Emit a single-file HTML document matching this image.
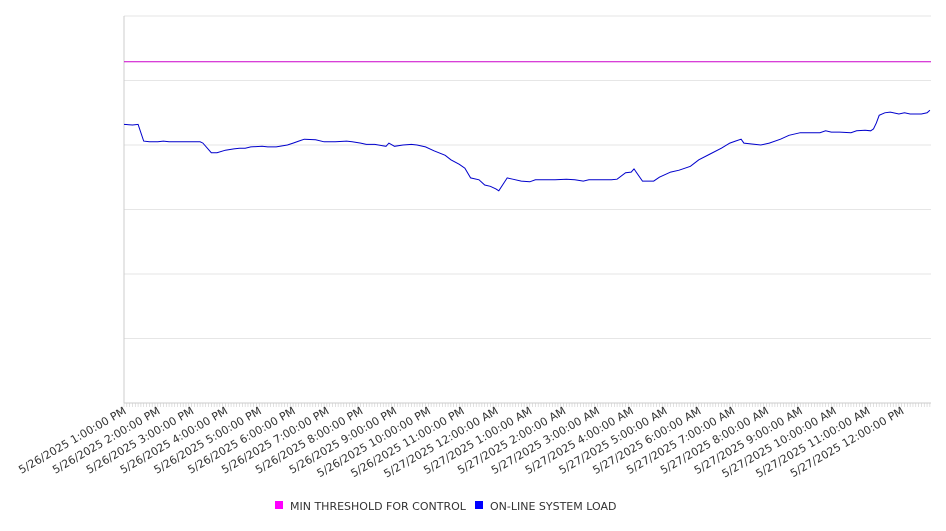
<!DOCTYPE html>
<html><head><meta charset="utf-8"><style>
body{margin:0;background:#fff;}
svg text{font-family:"DejaVu Sans","Liberation Sans",sans-serif;}
</style></head><body>
<svg id="chart" width="946" height="526" xmlns="http://www.w3.org/2000/svg">
<g id="grid"></g>
<g id="xaxis"></g>
<g id="series"></g>
<g id="legend">
  <rect x="275" y="501" width="8" height="8" fill="#ff00ff"/>
  <text x="290" y="510" font-size="11" fill="#333">MIN THRESHOLD FOR CONTROL</text>
  <rect x="475" y="501" width="8" height="8" fill="#0000ff"/>
  <text x="490" y="510" font-size="11" fill="#333">ON-LINE SYSTEM LOAD</text>
</g>
</svg>
<script>
const tickLabels = ["5/26/2025 1:00:00 PM","5/26/2025 2:00:00 PM","5/26/2025 3:00:00 PM","5/26/2025 4:00:00 PM","5/26/2025 5:00:00 PM","5/26/2025 6:00:00 PM","5/26/2025 7:00:00 PM","5/26/2025 8:00:00 PM","5/26/2025 9:00:00 PM","5/26/2025 10:00:00 PM","5/26/2025 11:00:00 PM","5/27/2025 12:00:00 AM","5/27/2025 1:00:00 AM","5/27/2025 2:00:00 AM","5/27/2025 3:00:00 AM","5/27/2025 4:00:00 AM","5/27/2025 5:00:00 AM","5/27/2025 6:00:00 AM","5/27/2025 7:00:00 AM","5/27/2025 8:00:00 AM","5/27/2025 9:00:00 AM","5/27/2025 10:00:00 AM","5/27/2025 11:00:00 AM","5/27/2025 12:00:00 PM"];
const loadMinutes = [0,15,25,35,45,60,70,80,90,100,115,135,140,155,165,180,195,205,215,225,245,255,270,290,300,310,320,340,355,375,395,405,420,430,445,465,470,480,495,510,520,535,550,570,580,595,605,615,630,640,650,660,665,680,690,705,720,730,745,765,785,800,815,825,845,865,875,890,900,905,920,940,950,970,985,1005,1020,1040,1060,1075,1085,1095,1100,1120,1130,1145,1165,1180,1200,1220,1235,1245,1255,1270,1290,1300,1315,1325,1330,1335,1340,1350,1360,1375,1385,1395,1415,1425,1430];
const loadValues = [432,431,432,406,405,405,406,405,405,405,405,405,403,388,388,392,394,395,395,397,398,397,397,400,403,406,409,408,405,405,406,405,403,401,401,398,403,398,400,401,400,397,391,384,377,370,364,349,346,338,336,332,329,349,347,344,343,346,346,346,347,346,344,346,346,346,347,357,358,363,344,344,350,358,361,367,377,386,395,403,406,409,403,401,400,403,409,415,419,419,419,422,420,420,419,422,423,422,425,434,446,450,451,448,450,448,448,450,454];
const thresholdValue = [529];
const yTicks = [0,100,200,300,400,500,600];

const NS="http://www.w3.org/2000/svg";
const L=124,R=931,T=16,B=403,XMAX=1432,YMAX=600;
const xs=m=>L+(m/XMAX)*(R-L);
const ys=v=>B-(v/YMAX)*(B-T);
const grid=document.getElementById('grid'),xa=document.getElementById('xaxis'),ser=document.getElementById('series');
function mk(tag,attrs,parent){const e=document.createElementNS(NS,tag);for(const k in attrs)e.setAttribute(k,attrs[k]);parent.appendChild(e);return e;}
yTicks.forEach(v=>{
  const g=mk('line',{x1:L,x2:R,y1:ys(v),y2:ys(v),stroke:'#e6e6e6','stroke-width':1},grid);
  
  
});
const ax=mk('line',{x1:L,x2:L,y1:T,y2:B,stroke:'#ccc','stroke-width':1},xa);


const bx=mk('line',{x1:L,x2:R,y1:B,y2:B,stroke:'#ccc','stroke-width':1},xa);


for(let m=0;m<=XMAX;m+=5){
  const t=mk('line',{x1:xs(m),x2:xs(m),y1:B,y2:B+4,stroke:'#ccc','stroke-width':0.6},xa);
  
  
}
tickLabels.forEach((s,i)=>{
  const x=xs(i*60)+3,y=B+10;
  const t=mk('text',{x:x,y:y,'font-size':11,fill:'#333','text-anchor':'end',transform:`rotate(-30 ${x} ${y})`},xa);
  t.textContent=s;
  
  
});
const th=mk('line',{x1:L,x2:R,y1:ys(thresholdValue[0]),y2:ys(thresholdValue[0]),stroke:'#cc00cc','stroke-width':1},ser);


const d=loadMinutes.map((m,i)=>(i?'L':'M')+xs(m).toFixed(1)+','+ys(loadValues[i]).toFixed(1)).join('');
const p=mk('path',{d:d,fill:'none',stroke:'#0000cc','stroke-width':1},ser);


</script>
</body></html>
